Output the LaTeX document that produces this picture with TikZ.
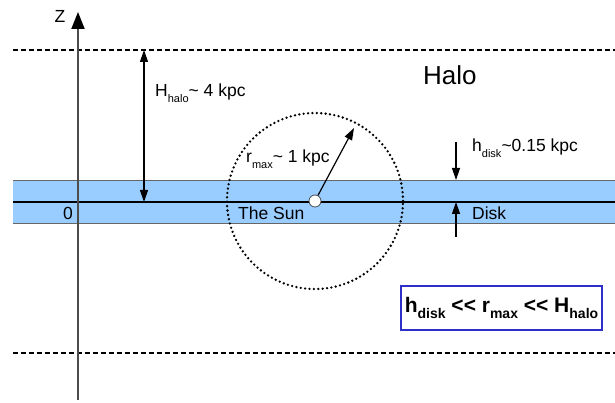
\documentclass[tikz,border=0pt]{standalone}
\usepackage{fontspec}
\setmainfont{Liberation Sans}
\usetikzlibrary{arrows.meta}
\definecolor{diskblue}{HTML}{99CCFF}
\definecolor{boxblue}{HTML}{2E2EC8}
\newcommand{\lowsub}[1]{\raisebox{-5.5pt}{\fontsize{11}{11}\selectfont #1}}
\newcommand{\boldsub}[1]{\raisebox{-6pt}{\fontsize{14}{14}\selectfont\bfseries #1}}
\begin{document}
\begin{tikzpicture}[x=1pt, y=-1pt,
    lbl/.style={inner sep=0pt, anchor=base west, font=\fontsize{17.5}{19}\selectfont},
    dim/.style={line width=1.2pt, -{Triangle[length=12pt, width=8pt]}},
    halobound/.style={line width=2pt, dash pattern=on 4.5pt off 3.5pt},
    axisline/.style={line width=2pt, draw=black!70, -{Triangle[length=17pt, width=13pt, color=black]}}]
    \useasboundingbox (0,0) rectangle (615,403);

    % disk band
    \fill[diskblue] (13,180) rectangle (615,223);
    \draw[black!60, line width=0.8pt] (13,180) -- (615,180) (13,223) -- (615,223);
    \coordinate (midl) at (13,202);
    \coordinate (midr) at (615,202);
    \draw[line width=1.5pt] (midl) -- (midr);

    % halo boundaries
    \coordinate (tl) at (13,50);
    \coordinate (tr) at (615,50);
    \coordinate (bl) at (13,353);
    \coordinate (br) at (615,353);
    \draw[halobound] (tl) -- (tr);
    \draw[halobound] (bl) -- (br);

    % z axis
    \coordinate (zbot) at (78,400);
    \coordinate (ztop) at (78,12);
    \draw[axisline] (zbot) -- (ztop);
    \node[lbl, anchor=base] (zlab) at (60,23) {Z};
    \node[lbl, anchor=base] (zero) at (68,220) {0};

    % sun and reach
    \node[circle, draw=black!70, fill=white, line width=0.8pt, minimum size=12pt, inner sep=0pt] (sun) at (315,201) {};
    \node[circle, draw, line width=2.6pt, line cap=round, dash pattern=on 0pt off 4.4pt,
          minimum size=176pt, inner sep=0pt] (reach) at (315,201) {};
    \coordinate (rtip) at (354,128);
    \draw[dim] (sun.62) -- (rtip);
    \node[lbl] (rlab) at (246,163) {r\lowsub{max}\textasciitilde{} 1 kpc};
    \node[lbl] (sunlab) at (238,220) {The Sun};

    % halo height
    \coordinate (hup) at (144,50);
    \coordinate (hdn) at (144,202);
    \draw[dim, {Triangle[length=12pt, width=8pt]}-{Triangle[length=12pt, width=8pt]}] (hdn) -- (hup);
    \node[lbl] (Hlab) at (155,97) {H\lowsub{halo}\textasciitilde{} 4 kpc};

    % disk thickness
    \coordinate (dtop) at (456,142);
    \coordinate (dtopend) at (456,180);
    \coordinate (dbot) at (456,237);
    \coordinate (dbotend) at (456,202);
    \draw[dim] (dtop) -- (dtopend);
    \draw[dim] (dbot) -- (dbotend);
    \node[lbl] (hlab) at (472,152) {h\lowsub{disk}\textasciitilde{}0.15 kpc};
    \node[lbl] (disklab) at (472,219) {Disk};

    \node[lbl, font=\fontsize{26}{28}\selectfont] (halolab) at (423,85) {Halo};

    % scale relation
    \node[draw=boxblue, line width=1.5pt, minimum width=201pt, minimum height=44pt, inner sep=0pt,
          font=\fontsize{21}{22}\selectfont\bfseries] (rel) at (501.5,308)
          {h\boldsub{disk} {<}{<} r\boldsub{max} {<}{<} H\boldsub{halo}};
\end{tikzpicture}
\end{document}
